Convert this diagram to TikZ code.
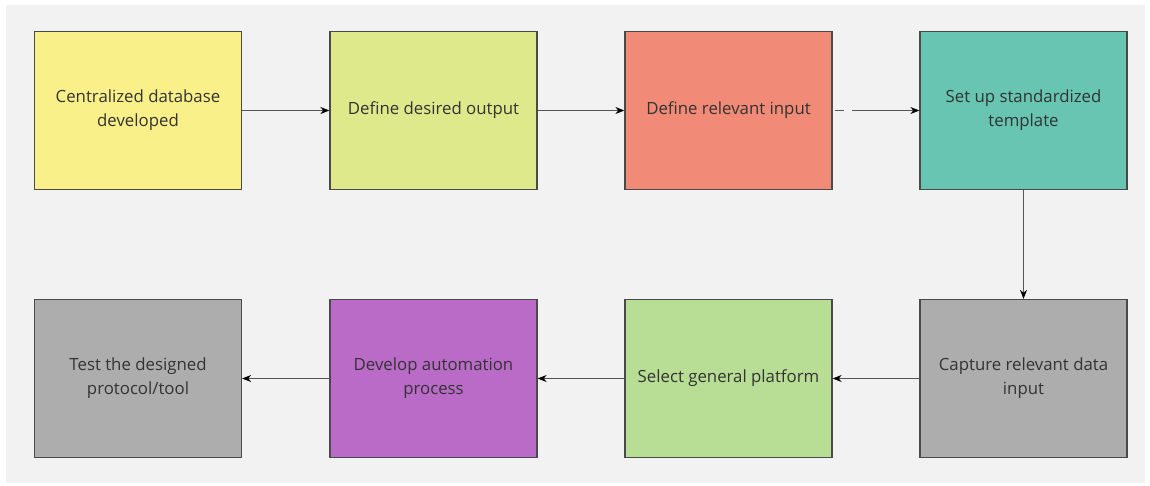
\documentclass[tikz,border=0pt]{standalone}
\usepackage{fontspec}
\setmainfont{Open Sans}
\usetikzlibrary{arrows.meta}
\definecolor{bgc}{HTML}{F2F2F2}
\definecolor{edgec}{HTML}{4A4A4A}
\definecolor{linec}{HTML}{555555}
\definecolor{txtc}{HTML}{333333}
\definecolor{cyel}{HTML}{F9F08A}
\definecolor{clime}{HTML}{DEE98B}
\definecolor{csal}{HTML}{F28A78}
\definecolor{cteal}{HTML}{67C5B1}
\definecolor{cgray}{HTML}{ADADAD}
\definecolor{cgreen}{HTML}{B8DD95}
\definecolor{cpurp}{HTML}{BA6BC8}
\begin{document}
\begin{tikzpicture}[x=1pt,y=-1pt,
  stepbox/.style={draw=edgec,line width=1.3pt,minimum width=207pt,minimum height=158pt,
    align=center,text=txtc,inner sep=0pt,
    font=\fontsize{16.8}{24}\selectfont},
  conn/.style={draw=linec,line width=0.9pt,-{Stealth[length=9pt,width=7pt,color=black]}}]
\useasboundingbox (0,0) rectangle (1150,485);
\fill[bgc] (6,5) rectangle (1145,483);
\node[stepbox,fill=cyel] (a) at (138,110.5) {Centralized database\\developed};
\node[stepbox,fill=clime] (b) at (433.5,110.5) {Define desired output};
\node[stepbox,fill=csal] (c) at (728.5,110.5) {Define relevant input};
\node[stepbox,fill=cteal] (d) at (1023.5,110.5) {Set up standardized\\template};
\node[stepbox,fill=cgray] (e) at (1023.5,378.5) {Capture relevant data\\input};
\node[stepbox,fill=cgreen] (f) at (728.5,378.5) {Select general platform};
\node[stepbox,fill=cpurp] (g) at (433.5,378.5) {Develop automation\\process};
\node[stepbox,fill=cgray] (h) at (138,378.5) {Test the designed\\protocol/tool};
\draw[conn] (a) -- (b);
\draw[conn] (b) -- (c);
\draw[conn,dash pattern=on 9pt off 8pt on 200pt,shorten <=2pt] (c) -- (d);
\draw[conn] (d) -- (e);
\draw[conn] (e) -- (f);
\draw[conn] (f) -- (g);
\draw[conn] (g) -- (h);
\end{tikzpicture}
\end{document}
